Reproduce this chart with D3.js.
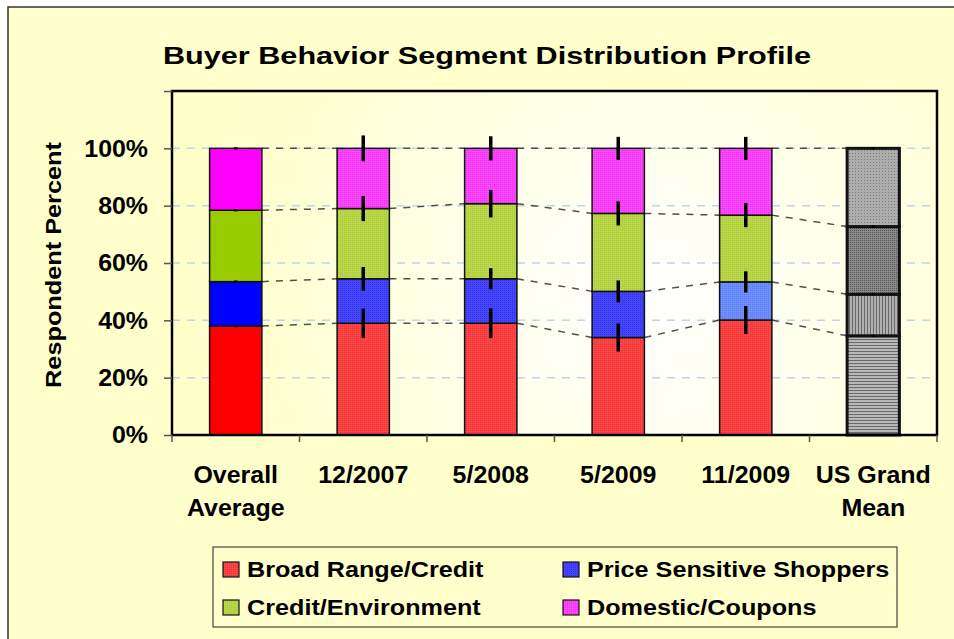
<!DOCTYPE html>
<html>
<head>
<meta charset="utf-8">
<script src="https://cdn.jsdelivr.net/npm/d3@7"></script>
<style>
  body { margin: 0; background: #fff; }
  text { font-family: "Liberation Sans", Arial, sans-serif; font-weight: bold; fill: #000; }
</style>
</head>
<body>
<script>
// ---- data ----
var categories = ["Overall Average", "12/2007", "5/2008", "5/2009", "11/2009", "US Grand Mean"];
var seriesNames = ["Broad Range/Credit", "Price Sensitive Shoppers", "Credit/Environment", "Domestic/Coupons"];

var broadRange     = [38.0, 39.0, 39.0, 34.0, 40.1, 34.6];
var priceSensitive = [15.5, 15.5, 15.5, 16.1, 13.3, 14.5];
var creditEnv      = [24.9, 24.5, 26.2, 27.2, 23.3, 23.6];
var domestic       = [21.6, 21.0, 19.3, 22.7, 23.3, 27.3];

// +/- error at the top of each segment
var errBroad    = [0.4, 5.1, 5.2, 4.9, 4.9, 0.4];
var errPrice    = [0.4, 4.1, 3.7, 3.8, 3.7, 0.4];
var errCredit   = [0.4, 4.4, 4.8, 4.2, 4.2, 0.4];
var errDomestic = [0.4, 4.5, 4.2, 4.0, 4.0, 0.4];

var yTicks = [0, 20, 40, 60, 80, 100, 120];

var W = 954, H = 639;
var plot = { left: 172, right: 937, top: 91, bottom: 435 };

var svg = d3.select("body").append("svg")
    .attr("width", W)
    .attr("height", H);

var defs = svg.append("defs");

// plot area glow
var rg = defs.append("radialGradient")
    .attr("id", "plotBg")
    .attr("gradientUnits", "userSpaceOnUse")
    .attr("cx", 650).attr("cy", 300).attr("r", 470);
rg.append("stop").attr("offset", "0%").attr("stop-color", "#ffffff");
rg.append("stop").attr("offset", "100%").attr("stop-color", "#ffffc8");

// textured fills for the survey bars
function dotPattern(id, base, dot, size) {
  var p = defs.append("pattern")
      .attr("id", id)
      .attr("patternUnits", "userSpaceOnUse")
      .attr("width", size).attr("height", size);
  p.append("rect").attr("width", size).attr("height", size).attr("fill", base);
  p.append("rect").attr("width", 1).attr("height", 1).attr("fill", dot);
}
dotPattern("texRed", "#ff4646", "#e83030", 2);
dotPattern("texBlue", "#4646ff", "#3030e0", 2);
dotPattern("texLtBlue", "#6e8fff", "#5a7ae8", 2);
dotPattern("texGreen", "#b8d84a", "#a6c83a", 2);
dotPattern("texPink", "#ff46ff", "#e830e8", 2);

// gray patterns for the US grand mean
function linePattern(id, base, line, horizontal) {
  var p = defs.append("pattern")
      .attr("id", id)
      .attr("patternUnits", "userSpaceOnUse")
      .attr("width", 3).attr("height", 3);
  p.append("rect").attr("width", 3).attr("height", 3).attr("fill", base);
  p.append("rect")
      .attr("width", horizontal ? 3 : 1)
      .attr("height", horizontal ? 1 : 3)
      .attr("fill", line);
}
linePattern("usRed", "#b8b8b8", "#6a6a6a", true);
linePattern("usBlue", "#b0b0b0", "#6a6a6a", false);
dotPattern("usGreen", "#8a8a8a", "#555555", 2);
dotPattern("usPink", "#adadad", "#7a7a7a", 3);

var solidColors = ["#ff0000", "#0000ff", "#99cc00", "#ff00ff"];
var texColors = ["url(#texRed)", "url(#texBlue)", "url(#texGreen)", "url(#texPink)"];
var usColors = ["url(#usRed)", "url(#usBlue)", "url(#usGreen)", "url(#usPink)"];

function fillFor(s, c) {
  if (c === 0) return solidColors[s];
  if (c === categories.length - 1) return usColors[s];
  if (s === 1 && categories[c] === "11/2009") return "url(#texLtBlue)";
  return texColors[s];
}

// the original lettering is a bit wider than Liberation, so stretch it sideways
function stretched(parent, x, y, sx, rotate) {
  return parent.append("g")
    .attr("transform", "translate(" + x + "," + y + ")" + (rotate ? " rotate(" + rotate + ")" : "") + " scale(" + sx + ",1)");
}

// chart area
svg.append("rect")
    .attr("x", 8).attr("y", 7)
    .attr("width", W - 8 + 5).attr("height", H)
    .attr("fill", "#ffffcc")
    .attr("stroke", "#333")
    .attr("stroke-width", 1.5);

// scales
var x = d3.scaleBand().domain(categories).range([plot.left, plot.right]).padding(0);
var y = d3.scaleLinear().domain([0, 120]).range([plot.bottom, plot.top]);
var barW = x.bandwidth() * 0.41;
function cx(c) { return x(c) + x.bandwidth() / 2; }

svg.append("rect")
    .attr("x", plot.left).attr("y", plot.top)
    .attr("width", plot.right - plot.left).attr("height", plot.bottom - plot.top)
    .attr("fill", "url(#plotBg)");

// gridlines
svg.append("g").selectAll("line")
    .data(yTicks.filter(function(d) { return d > 0 && d <= 100; }))
  .enter().append("line")
    .attr("x1", plot.left).attr("x2", plot.right)
    .attr("y1", function(d) { return y(d); })
    .attr("y2", function(d) { return y(d); })
    .attr("stroke", "#bcd6ee")
    .attr("stroke-width", 1.5)
    .attr("stroke-dasharray", "8,7");

// stack
var rows = categories.map(function(c, i) {
  return { cat: c, idx: i, s0: broadRange[i], s1: priceSensitive[i], s2: creditEnv[i], s3: domestic[i] };
});
var errs = [errBroad, errPrice, errCredit, errDomestic];
var stacked = d3.stack().keys(["s0", "s1", "s2", "s3"])(rows);

// series lines between neighbouring bars
var seriesLines = [];
stacked.forEach(function(layer) {
  for (var i = 0; i < layer.length - 1; i++) {
    seriesLines.push({
      x1: cx(categories[i]) + barW / 2, y1: y(layer[i][1]),
      x2: cx(categories[i + 1]) - barW / 2, y2: y(layer[i + 1][1])
    });
  }
});
svg.append("g").selectAll("line")
    .data(seriesLines)
  .enter().append("line")
    .attr("x1", function(d) { return d.x1; })
    .attr("y1", function(d) { return d.y1; })
    .attr("x2", function(d) { return d.x2; })
    .attr("y2", function(d) { return d.y2; })
    .attr("stroke", "#333")
    .attr("stroke-opacity", 0.85)
    .attr("stroke-width", 1.5)
    .attr("stroke-dasharray", "7,7");

// bars
var layers = svg.append("g").selectAll("g")
    .data(stacked)
  .enter().append("g");

layers.selectAll("rect")
    .data(function(d, s) { return d.map(function(p) { return { p: p, s: s }; }); })
  .enter().append("rect")
    .attr("x", function(d) { return cx(d.p.data.cat) - barW / 2; })
    .attr("y", function(d) { return y(d.p[1]); })
    .attr("width", barW)
    .attr("height", function(d) { return y(d.p[0]) - y(d.p[1]); })
    .attr("fill", function(d) { return fillFor(d.s, d.p.data.idx); })
    .attr("stroke", "#111")
    .attr("stroke-width", function(d) { return d.p.data.idx === categories.length - 1 ? 3 : 1.5; });

// error bars
var errData = [];
stacked.forEach(function(layer, s) {
  layer.forEach(function(p, i) {
    errData.push({ x: cx(categories[i]), top: p[1], e: errs[s][i] });
  });
});
svg.append("g").selectAll("line")
    .data(errData)
  .enter().append("line")
    .attr("x1", function(d) { return d.x; })
    .attr("x2", function(d) { return d.x; })
    .attr("y1", function(d) { return y(d.top + d.e); })
    .attr("y2", function(d) { return y(d.top - d.e); })
    .attr("stroke", "#000")
    .attr("stroke-width", 3.5);

// plot frame
svg.append("rect")
    .attr("x", plot.left).attr("y", plot.top)
    .attr("width", plot.right - plot.left).attr("height", plot.bottom - plot.top)
    .attr("fill", "none")
    .attr("stroke", "#000")
    .attr("stroke-width", 2.5);

// y axis
var yAxis = svg.append("g")
    .attr("transform", "translate(" + plot.left + ",0)")
    .call(d3.axisLeft(y)
      .tickValues(yTicks)
      .tickSize(8)
      .tickFormat(""));
yAxis.select(".domain").remove();
yAxis.selectAll(".tick line").attr("stroke", "#555").attr("stroke-width", 1.5);

var yLabelGroups = svg.append("g").selectAll("g")
    .data(yTicks.filter(function(d) { return d <= 100; }))
  .enter().append("g")
    .attr("transform", function(d) { return "translate(148," + y(d) + ") scale(1.06,1)"; });
yLabelGroups.append("text")
    .attr("text-anchor", "end")
    .attr("dy", "0.35em")
    .style("font-size", "23.5px")
    .text(function(d) { return d + "%"; });

// x ticks at band edges
var edges = categories.map(function(c) { return x(c); }).concat([x.range()[1]]);
svg.append("g").selectAll("line")
    .data(edges)
  .enter().append("line")
    .attr("x1", function(d) { return d; })
    .attr("x2", function(d) { return d; })
    .attr("y1", plot.bottom)
    .attr("y2", plot.bottom + 7)
    .attr("stroke", "#555")
    .attr("stroke-width", 1.5);

// x labels, wrapped at the last space
var xg = svg.append("g").selectAll("g")
    .data(categories)
  .enter().append("g")
    .attr("transform", function(d) { return "translate(" + cx(d) + ",483) scale(1.04,1)"; });
xg.each(function(d) {
  var k = d.lastIndexOf(" ");
  var parts = k > 0 ? [d.slice(0, k), d.slice(k + 1)] : [d];
  var t = d3.select(this).append("text")
      .attr("text-anchor", "middle")
      .style("font-size", "24px");
  parts.forEach(function(p, i) {
    t.append("tspan")
      .attr("x", 0)
      .attr("dy", i === 0 ? 0 : 33)
      .text(p);
  });
});

// title
stretched(svg, 487, 64, 1.25).append("text")
    .attr("text-anchor", "middle")
    .style("font-size", "24.5px")
    .text("Buyer Behavior Segment Distribution Profile");

// y axis title
stretched(svg, 61, 265, 1.15, -90).append("text")
    .attr("text-anchor", "middle")
    .style("font-size", "22px")
    .text("Respondent Percent");

// legend
var legend = svg.append("g");
legend.append("rect")
    .attr("x", 213).attr("y", 547)
    .attr("width", 684).attr("height", 80)
    .attr("fill", "#ffffcc")
    .attr("stroke", "#444")
    .attr("stroke-width", 1.2);

var legendItems = [
  { name: seriesNames[0], fill: texColors[0], col: 0, row: 0 },
  { name: seriesNames[1], fill: texColors[1], col: 1, row: 0 },
  { name: seriesNames[2], fill: texColors[2], col: 0, row: 1 },
  { name: seriesNames[3], fill: texColors[3], col: 1, row: 1 }
];
var li = legend.selectAll("g.item")
    .data(legendItems)
  .enter().append("g")
    .attr("class", "item")
    .attr("transform", function(d) {
      return "translate(" + (223 + d.col * 340) + "," + (569 + d.row * 38) + ")";
    });
li.append("rect")
    .attr("x", 0).attr("y", -7)
    .attr("width", 16).attr("height", 15)
    .attr("fill", function(d) { return d.fill; })
    .attr("stroke", "#111")
    .attr("stroke-width", 1.2);
li.append("g")
    .attr("transform", "translate(24,8) scale(1.12,1)")
  .append("text")
    .style("font-size", "22.5px")
    .text(function(d) { return d.name; });
</script>
</body>
</html>
